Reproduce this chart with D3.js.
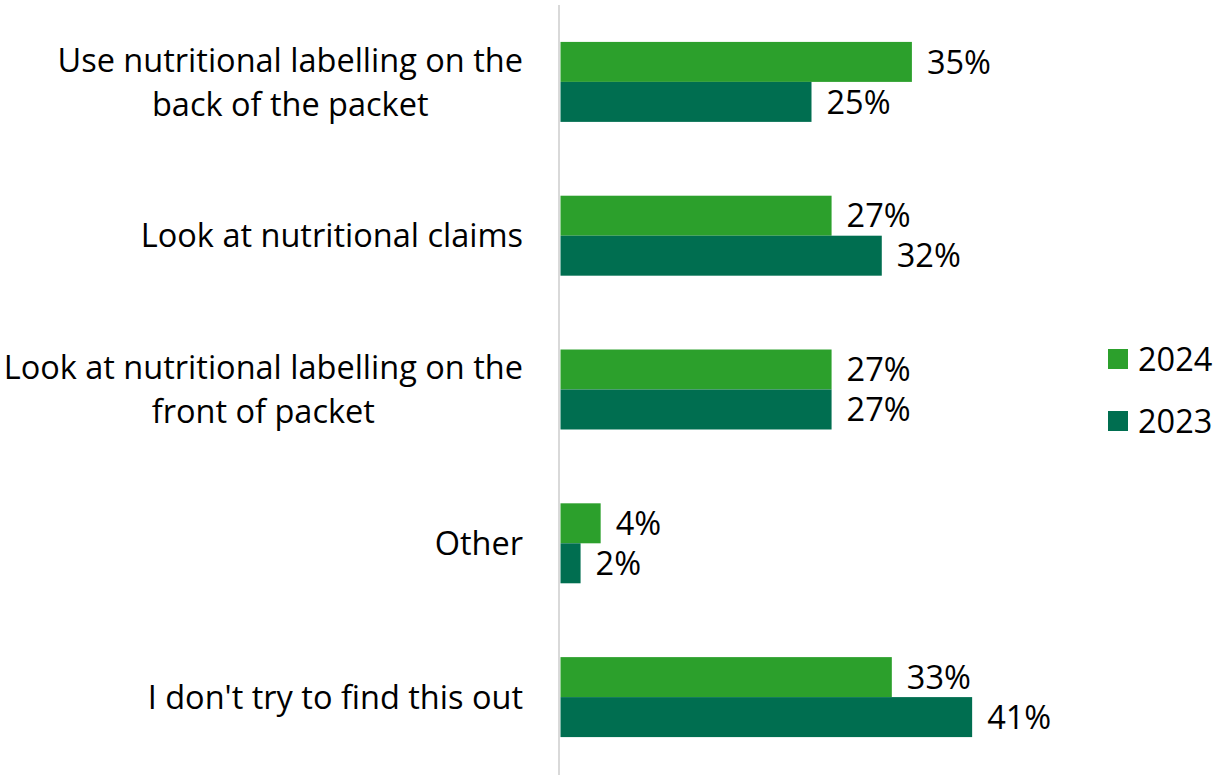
<!DOCTYPE html>
<html>
<head>
<meta charset="utf-8">
<script src="https://cdn.jsdelivr.net/npm/d3@7"></script>
<style>
  html, body { margin: 0; padding: 0; background: #ffffff; }
  svg { display: block; }
  text { font-family: "Open Sans", "Noto Sans", sans-serif; fill: #000; font-variant-ligatures: none; }
</style>
</head>
<body>
<svg id="chart" width="1215" height="775"></svg>
<script>
// Survey responses: how people find out about nutrition, by year (%)
const categories = [
  "Use nutritional labelling on the back of the packet",
  "Look at nutritional claims",
  "Look at nutritional labelling on the front of packet",
  "Other",
  "I don't try to find this out"
];
// Wrapped label lines for the category axis
const categoryLines = [
  ["Use nutritional labelling on the", "back of the packet"],
  ["Look at nutritional claims"],
  ["Look at nutritional labelling on the", "front of packet"],
  ["Other"],
  ["I don't try to find this out"]
];
const seriesNames = ["2024", "2023"];
const values2024 = [35, 27, 27, 4, 33];
const values2023 = [25, 32, 27, 2, 41];
const seriesColors = ["#2ca02c", "#006e50"];

const fontSize = 32.5;
const svg = d3.select("#chart");

const series = [values2024, values2023];

const y = d3.scaleBand()
  .domain(categories)
  .range([5, 774])
  .paddingInner(0.48)
  .paddingOuter(0.24);

const ySub = d3.scaleBand()
  .domain(seriesNames)
  .range([0, y.bandwidth()]);

const x = d3.scaleLinear()
  .domain([0, 100])
  .range([560.5, 560.5 + 1004]);

// Category axis line
svg.append("line")
  .attr("x1", 559).attr("x2", 559)
  .attr("y1", 5).attr("y2", 775)
  .attr("stroke", "#d9d9d9")
  .attr("stroke-width", 2);

// Bars and value labels
seriesNames.forEach((name, si) => {
  const rows = categories.map((c, i) => ({ c, v: series[si][i] }));
  const g = svg.append("g").attr("class", "series-" + name);
  g.selectAll("rect")
    .data(rows)
    .join("rect")
    .attr("x", x(0))
    .attr("y", d => y(d.c) + ySub(name))
    .attr("width", d => x(d.v) - x(0))
    .attr("height", ySub.bandwidth())
    .attr("fill", seriesColors[si]);

  g.selectAll("text")
    .data(rows)
    .join("text")
    .attr("x", d => x(d.v) + 15)
    .attr("y", d => y(d.c) + ySub(name) + ySub.bandwidth() / 2)
    .attr("dy", "0.36em")
    .attr("font-size", fontSize)
    .text(d => d.v + "%");
});

// Category labels: lines centred on each other, block right-aligned
const labelRight = 523;
const lineGap = 44;
categories.forEach((c, i) => {
  const lines = categoryLines[i];
  const g = svg.append("g");
  const texts = lines.map(l => g.append("text")
    .attr("font-size", fontSize)
    .attr("text-anchor", "middle")
    .text(l));
  const maxW = d3.max(texts, t => t.node().getComputedTextLength());
  const cx = labelRight - maxW / 2;
  const cy = y(c) + y.bandwidth() / 2;
  texts.forEach((t, k) => {
    t.attr("x", cx)
     .attr("y", cy + (k - (lines.length - 1) / 2) * lineGap)
     .attr("dy", "0.36em");
  });
});

// Legend
const legend = svg.append("g");
seriesNames.forEach((name, si) => {
  const ly = 359 + si * 62;
  legend.append("rect")
    .attr("x", 1108).attr("y", ly - 10)
    .attr("width", 20).attr("height", 20)
    .attr("fill", seriesColors[si]);
  legend.append("text")
    .attr("x", 1138).attr("y", ly)
    .attr("dy", "0.36em")
    .attr("font-size", fontSize)
    .text(name);
});
</script>
</body>
</html>
